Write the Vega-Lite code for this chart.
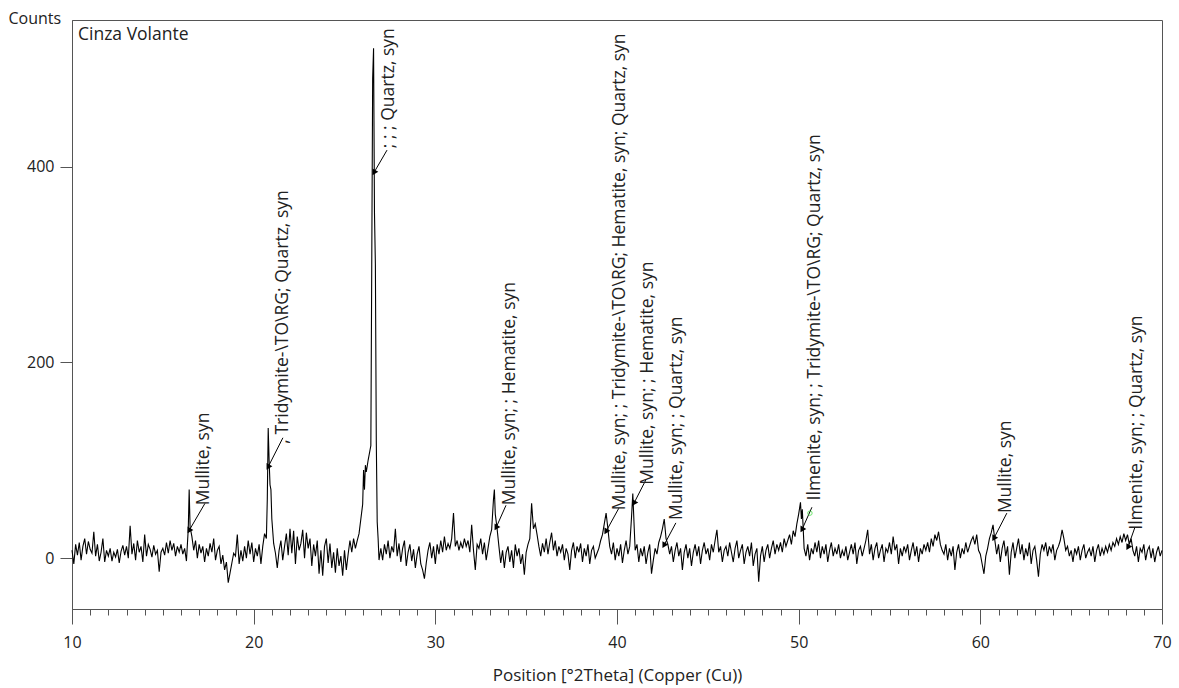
{
  "$schema": "https://vega.github.io/schema/vega-lite/v6.json",
  "autosize": "none",
  "width": 1090,
  "height": 589,
  "padding": {"left": 72, "top": 20, "right": 17, "bottom": 79},
  "background": "white",
  "config": {
    "view": {"stroke": "#555", "strokeWidth": 1},
    "font": "Open Sans",
    "axis": {"domainColor": "#555", "tickColor": "#555", "labelColor": "#222", "titleColor": "#222", "labelFont": "Open Sans", "titleFont": "Open Sans", "labelFontSize": 16, "titleFontSize": 17, "titleFontWeight": "normal", "grid": false}
  },
  "datasets": {
    "xrd": [
      {"t":10.0,"c":8},{"t":10.1,"c":-6},{"t":10.2,"c":14},{"t":10.3,"c":3},{"t":10.4,"c":16},{"t":10.5,"c":-2},{"t":10.6,"c":12},{"t":10.7,"c":20},{"t":10.8,"c":4},{"t":10.9,"c":17},
      {"t":11.0,"c":9},{"t":11.1,"c":5},{"t":11.2,"c":27},{"t":11.3,"c":2},{"t":11.4,"c":14},{"t":11.5,"c":-3},{"t":11.6,"c":6},{"t":11.7,"c":20},{"t":11.8,"c":-4},{"t":11.9,"c":8},
      {"t":12.0,"c":2},{"t":12.1,"c":10},{"t":12.2,"c":-3},{"t":12.3,"c":6},{"t":12.4,"c":1},{"t":12.5,"c":9},{"t":12.6,"c":-5},{"t":12.7,"c":7},{"t":12.8,"c":13},{"t":12.9,"c":3},
      {"t":13.0,"c":12},{"t":13.1,"c":0},{"t":13.2,"c":33},{"t":13.3,"c":4},{"t":13.4,"c":15},{"t":13.5,"c":-2},{"t":13.6,"c":18},{"t":13.7,"c":6},{"t":13.8,"c":12},{"t":13.9,"c":-4},
      {"t":14.0,"c":24},{"t":14.1,"c":2},{"t":14.2,"c":14},{"t":14.3,"c":9},{"t":14.4,"c":1},{"t":14.5,"c":13},{"t":14.6,"c":4},{"t":14.7,"c":8},{"t":14.8,"c":-14},{"t":14.9,"c":6},
      {"t":15.0,"c":10},{"t":15.1,"c":3},{"t":15.2,"c":16},{"t":15.3,"c":5},{"t":15.4,"c":18},{"t":15.5,"c":8},{"t":15.6,"c":15},{"t":15.7,"c":2},{"t":15.8,"c":12},{"t":15.9,"c":6},
      {"t":16.0,"c":14},{"t":16.1,"c":4},{"t":16.2,"c":10},{"t":16.3,"c":-3},{"t":16.4,"c":30},{"t":16.45,"c":70},{"t":16.5,"c":32},{"t":16.6,"c":22},{"t":16.7,"c":8},{"t":16.8,"c":18},{"t":16.9,"c":0},
      {"t":17.0,"c":14},{"t":17.1,"c":5},{"t":17.2,"c":12},{"t":17.3,"c":-4},{"t":17.4,"c":10},{"t":17.5,"c":2},{"t":17.6,"c":15},{"t":17.7,"c":6},{"t":17.8,"c":20},{"t":17.9,"c":-2},
      {"t":18.0,"c":8},{"t":18.1,"c":12},{"t":18.2,"c":-6},{"t":18.3,"c":3},{"t":18.4,"c":-12},{"t":18.5,"c":-4},{"t":18.6,"c":-25},{"t":18.7,"c":-15},{"t":18.8,"c":-5},{"t":18.9,"c":5},
      {"t":19.0,"c":2},{"t":19.1,"c":24},{"t":19.2,"c":-6},{"t":19.3,"c":8},{"t":19.4,"c":-3},{"t":19.5,"c":12},{"t":19.6,"c":0},{"t":19.7,"c":18},{"t":19.8,"c":4},{"t":19.9,"c":16},
      {"t":20.0,"c":-4},{"t":20.1,"c":10},{"t":20.2,"c":2},{"t":20.3,"c":14},{"t":20.4,"c":-6},{"t":20.5,"c":12},{"t":20.6,"c":25},{"t":20.7,"c":20},{"t":20.75,"c":60},{"t":20.8,"c":133},{"t":20.85,"c":100},{"t":20.9,"c":75},{"t":20.95,"c":70},{"t":21.0,"c":40},{"t":21.1,"c":15},
      {"t":21.2,"c":5},{"t":21.3,"c":-10},{"t":21.4,"c":8},{"t":21.5,"c":18},{"t":21.6,"c":-2},{"t":21.7,"c":12},{"t":21.8,"c":25},{"t":21.9,"c":3},
      {"t":22.0,"c":30},{"t":22.1,"c":5},{"t":22.2,"c":28},{"t":22.3,"c":-6},{"t":22.4,"c":22},{"t":22.5,"c":8},{"t":22.6,"c":15},{"t":22.7,"c":29},{"t":22.8,"c":0},{"t":22.9,"c":26},
      {"t":23.0,"c":10},{"t":23.1,"c":20},{"t":23.2,"c":-8},{"t":23.3,"c":14},{"t":23.4,"c":2},{"t":23.5,"c":18},{"t":23.6,"c":-16},{"t":23.7,"c":8},{"t":23.8,"c":-18},{"t":23.9,"c":12},
      {"t":24.0,"c":20},{"t":24.1,"c":-5},{"t":24.2,"c":15},{"t":24.3,"c":-10},{"t":24.4,"c":6},{"t":24.5,"c":-15},{"t":24.6,"c":10},{"t":24.7,"c":-8},{"t":24.8,"c":2},{"t":24.9,"c":-18},
      {"t":25.0,"c":8},{"t":25.1,"c":-12},{"t":25.2,"c":4},{"t":25.3,"c":18},{"t":25.4,"c":6},{"t":25.5,"c":20},{"t":25.6,"c":10},{"t":25.7,"c":18},{"t":25.8,"c":25},{"t":25.9,"c":40},
      {"t":26.0,"c":55},{"t":26.05,"c":90},{"t":26.1,"c":70},{"t":26.15,"c":95},{"t":26.2,"c":88},{"t":26.3,"c":100},{"t":26.4,"c":110},{"t":26.45,"c":115},{"t":26.5,"c":300},{"t":26.55,"c":490},{"t":26.6,"c":521},{"t":26.65,"c":353},{"t":26.7,"c":300},{"t":26.75,"c":120},{"t":26.8,"c":37},{"t":26.85,"c":20},{"t":26.9,"c":-2},
      {"t":27.0,"c":10},{"t":27.1,"c":-2},{"t":27.2,"c":14},{"t":27.3,"c":4},{"t":27.4,"c":18},{"t":27.5,"c":0},{"t":27.6,"c":12},{"t":27.7,"c":6},{"t":27.8,"c":30},{"t":27.9,"c":2},
      {"t":28.0,"c":15},{"t":28.1,"c":-4},{"t":28.2,"c":10},{"t":28.3,"c":18},{"t":28.4,"c":-8},{"t":28.5,"c":6},{"t":28.6,"c":14},{"t":28.7,"c":-3},{"t":28.8,"c":9},{"t":28.9,"c":-10},
      {"t":29.0,"c":4},{"t":29.1,"c":12},{"t":29.2,"c":-6},{"t":29.3,"c":-12},{"t":29.4,"c":-21},{"t":29.5,"c":-5},{"t":29.6,"c":8},{"t":29.7,"c":16},{"t":29.8,"c":0},{"t":29.9,"c":12},
      {"t":30.0,"c":-6},{"t":30.1,"c":14},{"t":30.2,"c":4},{"t":30.3,"c":18},{"t":30.4,"c":6},{"t":30.5,"c":22},{"t":30.6,"c":8},{"t":30.7,"c":15},{"t":30.8,"c":10},{"t":30.9,"c":20},
      {"t":31.0,"c":46},{"t":31.1,"c":12},{"t":31.2,"c":18},{"t":31.3,"c":8},{"t":31.4,"c":16},{"t":31.5,"c":10},{"t":31.6,"c":20},{"t":31.7,"c":12},{"t":31.8,"c":18},{"t":31.9,"c":6},
      {"t":32.0,"c":34},{"t":32.1,"c":8},{"t":32.2,"c":-12},{"t":32.3,"c":14},{"t":32.4,"c":10},{"t":32.5,"c":20},{"t":32.6,"c":4},{"t":32.7,"c":16},{"t":32.8,"c":-2},{"t":32.9,"c":10},
      {"t":33.0,"c":22},{"t":33.1,"c":29},{"t":33.2,"c":60},{"t":33.25,"c":70},{"t":33.3,"c":45},{"t":33.4,"c":30},{"t":33.5,"c":12},{"t":33.6,"c":-5},{"t":33.7,"c":8},{"t":33.8,"c":-10},{"t":33.9,"c":6},
      {"t":34.0,"c":12},{"t":34.1,"c":-4},{"t":34.2,"c":8},{"t":34.3,"c":-10},{"t":34.4,"c":14},{"t":34.5,"c":2},{"t":34.6,"c":10},{"t":34.7,"c":-6},{"t":34.8,"c":4},{"t":34.9,"c":-17},
      {"t":35.0,"c":6},{"t":35.1,"c":14},{"t":35.2,"c":20},{"t":35.3,"c":56},{"t":35.4,"c":30},{"t":35.5,"c":35},{"t":35.6,"c":24},{"t":35.7,"c":12},{"t":35.8,"c":2},{"t":35.9,"c":15},
      {"t":36.0,"c":6},{"t":36.1,"c":20},{"t":36.2,"c":4},{"t":36.3,"c":16},{"t":36.4,"c":26},{"t":36.5,"c":8},{"t":36.6,"c":18},{"t":36.7,"c":2},{"t":36.8,"c":12},{"t":36.9,"c":6},
      {"t":37.0,"c":14},{"t":37.1,"c":-2},{"t":37.2,"c":10},{"t":37.3,"c":4},{"t":37.4,"c":-12},{"t":37.5,"c":8},{"t":37.6,"c":16},{"t":37.7,"c":0},{"t":37.8,"c":12},{"t":37.9,"c":6},
      {"t":38.0,"c":15},{"t":38.1,"c":-4},{"t":38.2,"c":10},{"t":38.3,"c":2},{"t":38.4,"c":14},{"t":38.5,"c":-6},{"t":38.6,"c":8},{"t":38.7,"c":12},{"t":38.8,"c":0},{"t":38.9,"c":5},
      {"t":39.0,"c":10},{"t":39.1,"c":18},{"t":39.2,"c":24},{"t":39.3,"c":35},{"t":39.4,"c":46},{"t":39.5,"c":30},{"t":39.6,"c":12},{"t":39.7,"c":4},{"t":39.8,"c":16},{"t":39.9,"c":-2},
      {"t":40.0,"c":10},{"t":40.1,"c":2},{"t":40.2,"c":14},{"t":40.3,"c":-5},{"t":40.4,"c":8},{"t":40.5,"c":18},{"t":40.6,"c":4},{"t":40.7,"c":12},{"t":40.8,"c":42},{"t":40.87,"c":66},{"t":40.95,"c":30},{"t":41.0,"c":8},{"t":41.1,"c":14},
      {"t":41.2,"c":-4},{"t":41.3,"c":10},{"t":41.4,"c":2},{"t":41.5,"c":12},{"t":41.6,"c":-6},{"t":41.7,"c":6},{"t":41.8,"c":14},{"t":41.9,"c":-16},
      {"t":42.0,"c":-2},{"t":42.1,"c":10},{"t":42.2,"c":4},{"t":42.3,"c":16},{"t":42.4,"c":22},{"t":42.5,"c":30},{"t":42.6,"c":40},{"t":42.7,"c":20},{"t":42.8,"c":14},{"t":42.9,"c":4},
      {"t":43.0,"c":12},{"t":43.1,"c":-4},{"t":43.2,"c":8},{"t":43.3,"c":16},{"t":43.4,"c":2},{"t":43.5,"c":10},{"t":43.6,"c":-12},{"t":43.7,"c":6},{"t":43.8,"c":14},{"t":43.9,"c":0},
      {"t":44.0,"c":10},{"t":44.1,"c":-8},{"t":44.2,"c":6},{"t":44.3,"c":14},{"t":44.4,"c":2},{"t":44.5,"c":12},{"t":44.6,"c":-6},{"t":44.7,"c":8},{"t":44.8,"c":16},{"t":44.9,"c":4},
      {"t":45.0,"c":10},{"t":45.1,"c":-2},{"t":45.2,"c":14},{"t":45.3,"c":6},{"t":45.4,"c":18},{"t":45.5,"c":29},{"t":45.6,"c":6},{"t":45.7,"c":12},{"t":45.8,"c":-4},{"t":45.9,"c":8},
      {"t":46.0,"c":12},{"t":46.1,"c":2},{"t":46.2,"c":16},{"t":46.3,"c":6},{"t":46.4,"c":-4},{"t":46.5,"c":10},{"t":46.6,"c":18},{"t":46.7,"c":0},{"t":46.8,"c":8},{"t":46.9,"c":14},
      {"t":47.0,"c":-6},{"t":47.1,"c":6},{"t":47.2,"c":12},{"t":47.3,"c":2},{"t":47.4,"c":16},{"t":47.5,"c":-8},{"t":47.6,"c":4},{"t":47.7,"c":10},{"t":47.8,"c":-24},{"t":47.9,"c":2},
      {"t":48.0,"c":12},{"t":48.1,"c":-4},{"t":48.2,"c":8},{"t":48.3,"c":14},{"t":48.4,"c":0},{"t":48.5,"c":10},{"t":48.6,"c":18},{"t":48.7,"c":4},{"t":48.8,"c":14},{"t":48.9,"c":8},
      {"t":49.0,"c":16},{"t":49.1,"c":6},{"t":49.2,"c":20},{"t":49.3,"c":12},{"t":49.4,"c":18},{"t":49.5,"c":24},{"t":49.6,"c":14},{"t":49.7,"c":28},{"t":49.8,"c":22},{"t":49.9,"c":35},
      {"t":50.0,"c":45},{"t":50.1,"c":57},{"t":50.15,"c":40},{"t":50.2,"c":50},{"t":50.3,"c":10},{"t":50.4,"c":2},{"t":50.5,"c":14},{"t":50.6,"c":-2},{"t":50.7,"c":10},{"t":50.8,"c":4},{"t":50.9,"c":16},
      {"t":51.0,"c":6},{"t":51.1,"c":18},{"t":51.2,"c":0},{"t":51.3,"c":12},{"t":51.4,"c":4},{"t":51.5,"c":14},{"t":51.6,"c":-4},{"t":51.7,"c":8},{"t":51.8,"c":16},{"t":51.9,"c":2},
      {"t":52.0,"c":10},{"t":52.1,"c":4},{"t":52.2,"c":14},{"t":52.3,"c":0},{"t":52.4,"c":8},{"t":52.5,"c":2},{"t":52.6,"c":12},{"t":52.7,"c":-2},{"t":52.8,"c":6},{"t":52.9,"c":14},
      {"t":53.0,"c":4},{"t":53.1,"c":16},{"t":53.2,"c":-6},{"t":53.3,"c":8},{"t":53.4,"c":12},{"t":53.5,"c":2},{"t":53.6,"c":10},{"t":53.7,"c":18},{"t":53.8,"c":29},{"t":53.9,"c":4},
      {"t":54.0,"c":14},{"t":54.1,"c":-2},{"t":54.2,"c":10},{"t":54.3,"c":16},{"t":54.4,"c":0},{"t":54.5,"c":8},{"t":54.6,"c":14},{"t":54.7,"c":-4},{"t":54.8,"c":10},{"t":54.9,"c":6},
      {"t":55.0,"c":16},{"t":55.1,"c":4},{"t":55.2,"c":22},{"t":55.3,"c":8},{"t":55.4,"c":14},{"t":55.5,"c":-6},{"t":55.6,"c":10},{"t":55.7,"c":2},{"t":55.8,"c":12},{"t":55.9,"c":6},
      {"t":56.0,"c":14},{"t":56.1,"c":-2},{"t":56.2,"c":8},{"t":56.3,"c":16},{"t":56.4,"c":2},{"t":56.5,"c":12},{"t":56.6,"c":-4},{"t":56.7,"c":10},{"t":56.8,"c":4},{"t":56.9,"c":14},
      {"t":57.0,"c":8},{"t":57.1,"c":16},{"t":57.2,"c":6},{"t":57.3,"c":20},{"t":57.4,"c":12},{"t":57.5,"c":24},{"t":57.6,"c":18},{"t":57.7,"c":27},{"t":57.8,"c":14},{"t":57.9,"c":8},
      {"t":58.0,"c":4},{"t":58.1,"c":14},{"t":58.2,"c":-2},{"t":58.3,"c":10},{"t":58.4,"c":2},{"t":58.5,"c":12},{"t":58.6,"c":-12},{"t":58.7,"c":6},{"t":58.8,"c":14},{"t":58.9,"c":0},
      {"t":59.0,"c":10},{"t":59.1,"c":4},{"t":59.2,"c":16},{"t":59.3,"c":6},{"t":59.4,"c":12},{"t":59.5,"c":18},{"t":59.6,"c":22},{"t":59.7,"c":14},{"t":59.8,"c":24},{"t":59.9,"c":8},
      {"t":60.0,"c":4},{"t":60.1,"c":-6},{"t":60.2,"c":-16},{"t":60.3,"c":2},{"t":60.4,"c":10},{"t":60.5,"c":20},{"t":60.6,"c":26},{"t":60.7,"c":34},{"t":60.8,"c":18},{"t":60.9,"c":4},
      {"t":61.0,"c":14},{"t":61.1,"c":-4},{"t":61.2,"c":10},{"t":61.3,"c":18},{"t":61.4,"c":2},{"t":61.5,"c":12},{"t":61.6,"c":-17},{"t":61.7,"c":6},{"t":61.8,"c":16},{"t":61.9,"c":0},
      {"t":62.0,"c":10},{"t":62.1,"c":20},{"t":62.2,"c":4},{"t":62.3,"c":14},{"t":62.4,"c":-2},{"t":62.5,"c":10},{"t":62.6,"c":2},{"t":62.7,"c":16},{"t":62.8,"c":-6},{"t":62.9,"c":8},
      {"t":63.0,"c":12},{"t":63.1,"c":-2},{"t":63.2,"c":-19},{"t":63.3,"c":4},{"t":63.4,"c":14},{"t":63.5,"c":8},{"t":63.6,"c":16},{"t":63.7,"c":2},{"t":63.8,"c":12},{"t":63.9,"c":6},
      {"t":64.0,"c":14},{"t":64.1,"c":-2},{"t":64.2,"c":8},{"t":64.3,"c":12},{"t":64.4,"c":18},{"t":64.5,"c":29},{"t":64.6,"c":20},{"t":64.7,"c":8},{"t":64.8,"c":12},{"t":64.9,"c":2},
      {"t":65.0,"c":8},{"t":65.1,"c":-4},{"t":65.2,"c":10},{"t":65.3,"c":4},{"t":65.4,"c":12},{"t":65.5,"c":-2},{"t":65.6,"c":8},{"t":65.7,"c":14},{"t":65.8,"c":0},{"t":65.9,"c":6},
      {"t":66.0,"c":10},{"t":66.1,"c":2},{"t":66.2,"c":12},{"t":66.3,"c":-4},{"t":66.4,"c":8},{"t":66.5,"c":14},{"t":66.6,"c":2},{"t":66.7,"c":10},{"t":66.8,"c":4},{"t":66.9,"c":12},
      {"t":67.0,"c":6},{"t":67.1,"c":14},{"t":67.2,"c":8},{"t":67.3,"c":16},{"t":67.4,"c":12},{"t":67.5,"c":20},{"t":67.6,"c":14},{"t":67.7,"c":22},{"t":67.8,"c":16},{"t":67.9,"c":25},
      {"t":68.0,"c":18},{"t":68.1,"c":24},{"t":68.2,"c":14},{"t":68.3,"c":20},{"t":68.4,"c":8},{"t":68.5,"c":2},{"t":68.6,"c":12},{"t":68.7,"c":-4},{"t":68.8,"c":10},{"t":68.9,"c":6},
      {"t":69.0,"c":14},{"t":69.1,"c":-2},{"t":69.2,"c":8},{"t":69.3,"c":12},{"t":69.4,"c":0},{"t":69.5,"c":10},{"t":69.6,"c":-4},{"t":69.7,"c":6},{"t":69.8,"c":12},{"t":69.9,"c":2},{"t":70.0,"c":8}
    ],
    "labels": [
      {"t":17.26,"c":54,"label":"Mullite, syn"},
      {"t":21.61,"c":117,"label":", Tridymite-\\TO\\RG; Quartz, syn"},
      {"t":27.45,"c":419,"label":"; ; ; Quartz, syn"},
      {"t":34.11,"c":54,"label":"Mullite, syn; ; Hematite, syn"},
      {"t":40.16,"c":49,"label":"Mullite, syn; ; Tridymite-\\TO\\RG; Hematite, syn; Quartz, syn"},
      {"t":41.70,"c":75,"label":"Mullite, syn; ; Hematite, syn"},
      {"t":43.30,"c":39,"label":"Mullite, syn; ; Quartz, syn"},
      {"t":50.89,"c":59,"label":"Ilmenite, syn; ; Tridymite-\\TO\\RG; Quartz, syn"},
      {"t":61.40,"c":46,"label":"Mullite, syn"},
      {"t":68.61,"c":29,"label":"Ilmenite, syn; ; Quartz, syn"}
    ],
    "arrows": [
      {"t":17.32,"c":56,"t2":16.44,"c2":28},
      {"t":21.61,"c":123,"t2":20.79,"c2":93},
      {"t":27.34,"c":417,"t2":26.62,"c2":394},
      {"t":33.89,"c":54,"t2":33.34,"c2":31},
      {"t":40.10,"c":51,"t2":39.39,"c2":27},
      {"t":41.59,"c":80,"t2":40.93,"c2":56},
      {"t":43.24,"c":36,"t2":42.58,"c2":13},
      {"t":50.73,"c":52,"t2":50.18,"c2":29},
      {"t":61.46,"c":46,"t2":60.74,"c2":20},
      {"t":68.50,"c":31,"t2":68.12,"c2":11}
    ],
    "marker": [{"t":50.62,"c":46}],
    "sample": [{"t":10.33,"c":535,"label":"Cinza Volante"}]
  },
  "layer": [
    {
      "data": {"name": "xrd"},
      "mark": {"type": "line", "color": "#000", "strokeWidth": 1.1, "interpolate": "linear"},
      "encoding": {
        "x": {"field": "t", "type": "quantitative", "scale": {"domain": [10, 70], "nice": false, "zero": false},
          "axis": {"title": "Position [°2Theta] (Copper (Cu))", "values": [10,11,12,13,14,15,16,17,18,19,20,21,22,23,24,25,26,27,28,29,30,31,32,33,34,35,36,37,38,39,40,41,42,43,44,45,46,47,48,49,50,51,52,53,54,55,56,57,58,59,60,61,62,63,64,65,66,67,68,69,70],
            "tickCount": 200, "format": "d",
            "labelExpr": "datum.value % 10 === 0 ? datum.label : ''", "labelOverlap": false, "labelFlush": false, "labelBound": false,
            "tickSize": {"condition": {"test": "datum.value % 10 === 0", "value": 15}, "value": 6},
            "labelPadding": 10, "titlePadding": 17}},
        "y": {"field": "c", "type": "quantitative", "scale": {"domain": [-52, 550], "nice": false, "zero": false},
          "axis": {"title": "Counts", "values": [0, 200, 400], "tickSize": 12, "labelPadding": 6, "titleFontSize": 16, "titleAngle": 0, "titleAlign": "left", "titleBaseline": "middle", "titleX": -64, "titleY": -2}}
      }
    },
    {
      "data": {"name": "arrows"},
      "mark": {"type": "rule", "color": "#000", "strokeWidth": 1},
      "encoding": {
        "x": {"field": "t", "type": "quantitative"},
        "y": {"field": "c", "type": "quantitative"},
        "x2": {"field": "t2"},
        "y2": {"field": "c2"}
      }
    },
    {
      "data": {"name": "arrows"},
      "mark": {"type": "point", "shape": "triangle-down", "filled": true, "color": "#000", "size": 45, "angle": 30, "opacity": 1},
      "encoding": {
        "x": {"field": "t2", "type": "quantitative"},
        "y": {"field": "c2", "type": "quantitative"}
      }
    },
    {
      "data": {"name": "marker"},
      "mark": {"type": "point", "shape": "circle", "filled": false, "color": "#33dd33", "size": 20, "strokeWidth": 1},
      "encoding": {
        "x": {"field": "t", "type": "quantitative"},
        "y": {"field": "c", "type": "quantitative"}
      }
    },
    {
      "data": {"name": "labels"},
      "mark": {"type": "text", "angle": 270, "align": "left", "baseline": "middle", "font": "Open Sans", "fontSize": 17.5, "color": "#222"},
      "encoding": {
        "x": {"field": "t", "type": "quantitative"},
        "y": {"field": "c", "type": "quantitative"},
        "text": {"field": "label"}
      }
    },
    {
      "data": {"name": "sample"},
      "mark": {"type": "text", "align": "left", "baseline": "middle", "font": "Open Sans", "fontSize": 17.5, "color": "#222"},
      "encoding": {
        "x": {"field": "t", "type": "quantitative"},
        "y": {"field": "c", "type": "quantitative"},
        "text": {"field": "label"}
      }
    }
  ]
}
